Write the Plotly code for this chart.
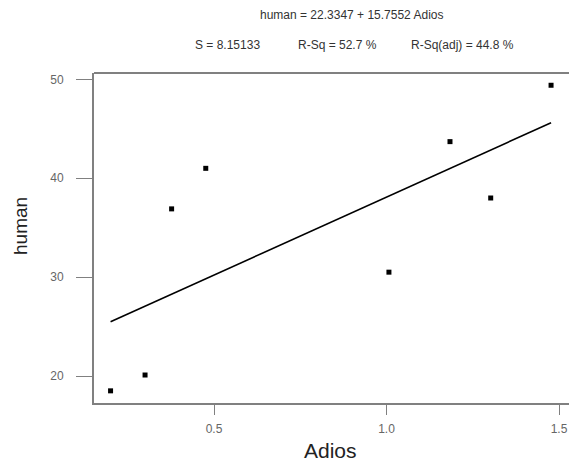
import numpy as np
import plotly.graph_objects as go

adios = [0.20, 0.30, 0.377, 0.476, 1.007, 1.184, 1.302, 1.477]
human = [18.5, 20.1, 36.9, 41.0, 30.5, 43.7, 38.0, 49.4]
intercept = 22.3347
slope = 15.7552
eq_text = "human = 22.3347 + 15.7552 Adios"
stats_texts = ["S = 8.15133", "R-Sq = 52.7 %", "R-Sq(adj) = 44.8 %"]
x_ticks = [0.5, 1.0, 1.5]
x_ticklabels = ["0.5", "1.0", "1.5"]
y_ticks = [20, 30, 40, 50]

fit_x = np.array([min(adios), max(adios)])
fit_y = intercept + slope * fit_x

FONT = "Liberation Sans, Arial, sans-serif"
AX = "#808080"

fig = go.Figure()
fig.add_trace(go.Scatter(x=fit_x, y=fit_y, mode="lines",
                         line=dict(color="black", width=1.6), hoverinfo="skip"))
fig.add_trace(go.Scatter(x=adios, y=human, mode="markers",
                         marker=dict(symbol="square", size=5, color="black",
                                     line=dict(width=0))))

# plot area at x 94..569, y 73..403
fig.update_layout(
    width=569, height=462,
    margin=dict(l=94, r=0, t=73, b=59),
    paper_bgcolor="white", plot_bgcolor="white",
    showlegend=False,
    font=dict(family=FONT, color="#555555", size=12),
    xaxis=dict(range=[0.152, 1.529], tickvals=x_ticks, ticktext=x_ticklabels,
               showgrid=False, zeroline=False, showline=True, linecolor=AX,
               linewidth=2, ticks="outside", ticklen=10, tickcolor=AX,
               tickwidth=1, tickfont=dict(size=12, color="#666666"),
               ticklabelstandoff=4),
    yaxis=dict(range=[17.27, 50.64], tickvals=y_ticks,
               showgrid=False, zeroline=False, showline=True, linecolor=AX,
               linewidth=2, ticks="outside", ticklen=16, tickcolor=AX,
               tickwidth=1, tickfont=dict(size=12, color="#666666"),
               ticklabelstandoff=10),
)

fig.add_shape(type="line", xref="paper", yref="paper", x0=0, x1=1, y0=1, y1=1,
              line=dict(color=AX, width=2))

ann = []
ann.append(dict(text=eq_text, x=(258.3 - 94) / 475, y=(403 - 15) / 330,
                xanchor="left", yanchor="middle"))
for t, px in zip(stats_texts, [193, 296, 409.3]):
    ann.append(dict(text=t, x=(px - 94) / 475, y=(403 - 45) / 330,
                    xanchor="left", yanchor="middle"))
for a in ann:
    a.update(xref="paper", yref="paper", showarrow=False,
             font=dict(family=FONT, size=12, color="#333333"))
    fig.add_annotation(**a)

fig.add_annotation(text="Adios", xref="paper", yref="paper",
                   x=(330 - 94) / 475, y=(403 - 450) / 330,
                   xanchor="center", yanchor="middle", showarrow=False,
                   font=dict(family=FONT, size=21, color="#222222"))
fig.add_annotation(text="human", xref="paper", yref="paper",
                   x=(20 - 94) / 475, y=(403 - 226) / 330, textangle=-90,
                   xanchor="center", yanchor="middle", showarrow=False,
                   font=dict(family=FONT, size=19, color="#222222"))

fig.write_html("out.html", config={"displayModeBar": False},
               post_script="document.body.style.margin='0';document.body.style.overflow='hidden';")
